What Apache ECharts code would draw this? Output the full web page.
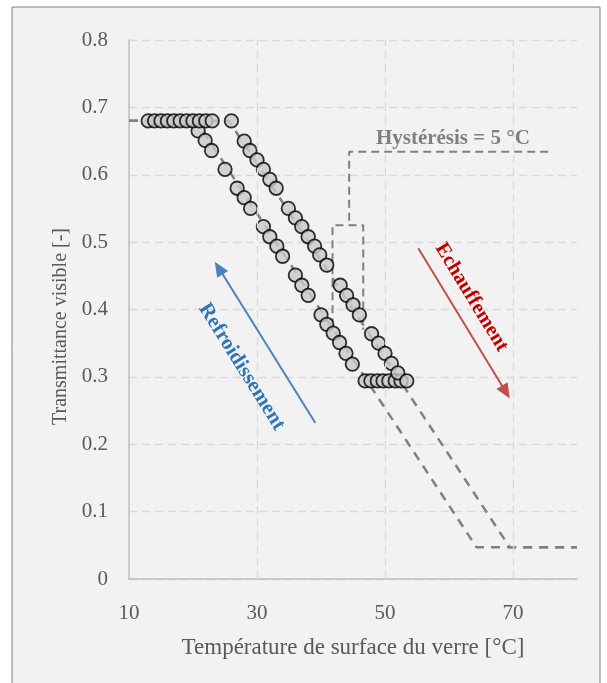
<!DOCTYPE html>
<html><head><meta charset="utf-8">
<script src="https://cdn.jsdelivr.net/npm/echarts@6/dist/echarts.min.js"></script>
<style>html,body{margin:0;padding:0;background:#fff}#c{width:607px;height:683px}</style>
</head><body><div id="c"></div>
<script>
// Measured data: heating (Echauffement)
const heatT  = [13,14,15,16,17,18,19,20,21,22,23,26,28,28.9,30,31,32,33,34.9,36,37,38,39,39.8,40.9,43,44,45,46,47.9,49,50,51,52,53.4];
const heatTv = [0.68,0.68,0.68,0.68,0.68,0.68,0.68,0.68,0.68,0.68,0.68,0.68,0.650,0.636,0.622,0.608,0.593,0.580,0.550,0.536,0.523,0.508,0.494,0.481,0.466,0.436,0.421,0.407,0.392,0.364,0.350,0.335,0.320,0.306,0.294];
// Measured data: cooling (Refroidissement)
const coolT  = [20.8,21.9,22.9,25,26.9,28,29,31,32,33.1,34,36,37,38,40,40.9,41.9,42.9,43.9,44.9,46.9,47.8,48.8,49.7,50.6,51.6,52.5];
const coolTv = [0.665,0.651,0.636,0.608,0.580,0.566,0.550,0.523,0.508,0.494,0.479,0.451,0.436,0.421,0.392,0.378,0.365,0.351,0.335,0.319,0.294,0.294,0.294,0.294,0.294,0.294,0.294];
// Model lines (dashed)
const modelCoolT  = [10,20.5,64.3,80];
const modelCoolTv = [0.68,0.68,0.047,0.047];
const modelHeatT  = [10,25.6,69.5,80];
const modelHeatTv = [0.68,0.68,0.047,0.047];
// Hysteresis annotation (dashed)
const hystLeadT  = [75.5,44.4,44.4];
const hystLeadTv = [0.634,0.634,0.525];
const hystBrT  = [41.8,41.8,46.6,46.6];
const hystBrTv = [0.375,0.525,0.525,0.37];
// Axis ticks
const xTicks = [10,30,50,70];
const xGridLines = [30,50,70];
const yMin = 0, yMax = 0.8, yStep = 0.1;
// Annotations
const coolArrow = [[39.1,0.232],[23.4,0.471]];
const heatArrow = [[55.2,0.491],[69.5,0.268]];
const coolLabel = {text:'Refroidissement', at:[27.6,0.315]};
const heatLabel = {text:'Echauffement', at:[63.5,0.418]};
const hystLabel = {text:'Hystérésis = 5 °C', at:[60.6,0.654]};

const FONT = '"Liberation Serif","DejaVu Serif",serif';
const zip = (a,b)=>a.map((v,i)=>[v,b[i]]);
const chart = echarts.init(document.getElementById('c'));

const dotStyle = {color:'#c9c9c9', borderColor:'#000', borderWidth:1.8};
chart.setOption({
  animation:false,
  backgroundColor:'transparent',
  grid:{left:129,right:30,top:40,bottom:104,containLabel:false},
  xAxis:{type:'value',min:10,max:80,interval:20,
    axisLine:{show:true,lineStyle:{color:'#bfbfbf',width:1.5}},
    axisTick:{show:false},
    splitLine:{show:false},
    axisLabel:{show:true,showMaxLabel:false,margin:24,color:'#595959',fontFamily:FONT,fontSize:21,
      formatter:v=>xTicks.includes(v)?String(v):''},
    name:'Température de surface du verre [°C]',nameLocation:'middle',nameGap:57,
    nameTextStyle:{color:'#595959',fontFamily:FONT,fontSize:23}
  },
  yAxis:{type:'value',min:yMin,max:yMax,interval:yStep,
    axisLine:{show:true,lineStyle:{color:'#bfbfbf',width:1.5}},
    axisTick:{show:false},
    splitLine:{show:true,lineStyle:{color:'#d9d9d9',width:1.3,type:[8,5]}},
    axisLabel:{margin:21,color:'#595959',fontFamily:FONT,fontSize:21,formatter:v=>String(+v.toFixed(1))},
    name:'Transmittance visible [-]',nameLocation:'middle',nameGap:57,
    nameTextStyle:{color:'#595959',fontFamily:FONT,fontSize:20,padding:[0,34,0,0]}
  },
  series:[
    {type:'line',data:[],z:1,silent:true,
      markLine:{silent:true,symbol:'none',label:{show:false},
        lineStyle:{color:'#d9d9d9',width:1.3,type:[8,5]},
        data:xGridLines.map(v=>({xAxis:v}))}},
    {type:'line',data:zip(modelCoolT,modelCoolTv),showSymbol:false,z:2,silent:true,
      lineStyle:{color:'#808080',width:2.5,type:[9,7]}},
    {type:'line',data:zip(modelHeatT,modelHeatTv),showSymbol:false,z:2,silent:true,
      lineStyle:{color:'#808080',width:2.5,type:[9,7]}},
    {type:'line',data:zip(hystLeadT,hystLeadTv),showSymbol:false,z:2,silent:true,
      lineStyle:{color:'#808080',width:2,type:[8,5]}},
    {type:'line',data:zip(hystBrT,hystBrTv),showSymbol:false,z:2,silent:true,
      lineStyle:{color:'#808080',width:2,type:[8,5]}},
    {type:'scatter',data:zip(coolT,coolTv),symbolSize:13.5,z:3,itemStyle:dotStyle},
    {type:'scatter',data:zip(heatT,heatTv),symbolSize:13.5,z:4,itemStyle:dotStyle}
  ]
});

const px = p => chart.convertToPixel({gridIndex:0}, p);
function arrow(pts,color){
  const a = px(pts[0]), b = px(pts[1]);
  const dx=b[0]-a[0], dy=b[1]-a[1], L=Math.hypot(dx,dy);
  const ux=dx/L, uy=dy/L, nx=-uy, ny=ux;
  const hl=15, hw=6.5;
  const bx=b[0]-ux*hl, by=b[1]-uy*hl;
  return [
    {type:'line',z:50,shape:{x1:a[0],y1:a[1],x2:bx+ux*3,y2:by+uy*3},style:{stroke:color,lineWidth:2}},
    {type:'polygon',z:50,shape:{points:[[b[0],b[1]],[bx+nx*hw,by+ny*hw],[bx-nx*hw,by-ny*hw]]},style:{fill:color}}
  ];
}
function angleOf(pts){
  const a=px(pts[0]), b=px(pts[1]);
  return -Math.atan2(Math.abs(b[1]-a[1]), Math.abs(b[0]-a[0]));
}
function label(l,color,size,rot){
  const p = px(l.at);
  return {type:'text',z:60,x:p[0],y:p[1],rotation:rot||0,
    style:{text:l.text,fill:color,font:'bold '+size+'px '+FONT,align:'center',verticalAlign:'middle'}};
}
const g = [
  {type:'rect',z:-100,silent:true,shape:{x:12,y:7,width:588,height:690},style:{fill:'#f2f2f2',stroke:'#7f7f7f',lineWidth:1}}
].concat(arrow(coolArrow,'#4f81bd'), arrow(heatArrow,'#c0504d'), [
  label(coolLabel,'#2e75b6',21,angleOf(coolArrow)),
  label(heatLabel,'#c00000',20.5,angleOf(heatArrow)),
  label(hystLabel,'#7f7f7f',21,0)
]);
chart.setOption({graphic:g});
</script></body></html>
